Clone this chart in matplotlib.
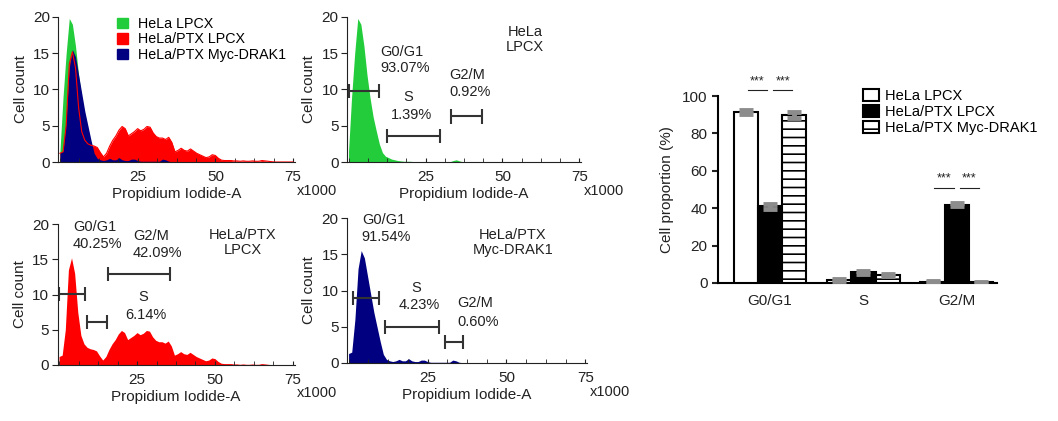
import numpy as np
import matplotlib
matplotlib.use('Agg')
import matplotlib.pyplot as plt
from matplotlib.patches import Patch
from matplotlib.ticker import MultipleLocator

plt.rcParams['font.family'] = ['Liberation Sans', 'DejaVu Sans']
plt.rcParams['font.size'] = 10.5
plt.rcParams['hatch.linewidth'] = 1.2

# PI channel (x1000), one bin per unit
pi_channel = np.arange(0, 76)

hela_lpcx_counts = [1.5, 9.0, 15.0, 19.8, 19.0, 16.0, 12.0, 8.8, 6.2, 4.3,
                    2.5, 1.3, 0.8, 0.6, 0.4, 0.3, 0.2, 0.15, 0.1, 0.1,
                    0.1, 0.05, 0.05, 0.05, 0.05, 0.05, 0.05, 0.05, 0.05, 0.05,
                    0.05, 0.05, 0.05, 0.05, 0.2, 0.3, 0.15, 0.05, 0.05, 0.05,
                    0.05, 0.05, 0.05, 0.05, 0.05, 0.05, 0.05, 0.05, 0.05, 0.05,
                    0.05, 0, 0, 0, 0, 0, 0, 0, 0, 0,
                    0, 0, 0, 0, 0, 0, 0, 0, 0, 0,
                    0, 0, 0, 0, 0, 0]

ptx_lpcx_counts = [1.2, 1.4, 5.0, 13.5, 15.2, 13.0, 7.5, 4.2, 3.0, 2.5,
                   2.3, 2.2, 2.0, 1.3, 0.7, 1.2, 2.2, 3.0, 3.6, 4.4,
                   4.9, 4.6, 3.6, 3.9, 4.2, 4.6, 4.3, 4.5, 4.9, 4.8,
                   4.0, 3.5, 3.3, 3.3, 3.1, 3.4, 2.7, 1.4, 1.6, 1.9,
                   1.6, 1.5, 1.8, 1.5, 1.2, 1.0, 0.8, 0.6, 0.7, 1.0,
                   0.9, 0.5, 0.25, 0.2, 0.2, 0.2, 0.15, 0.15, 0.1, 0.15,
                   0.1, 0.1, 0.15, 0.1, 0.1, 0.2, 0.15, 0.1, 0.05, 0,
                   0, 0, 0, 0, 0, 0]

ptx_drak1_counts = [1.3, 1.5, 6.0, 13.0, 15.5, 14.5, 12.0, 9.5, 7.0, 5.0,
                    3.0, 1.2, 0.5, 0.3, 0.2, 0.3, 0.5, 0.3, 0.3, 0.6,
                    0.3, 0.2, 0.2, 0.4, 0.4, 0.2, 0.1, 0.1, 0.1, 0.1,
                    0.1, 0.1, 0.1, 0.4, 0.3, 0.1, 0.05, 0.05, 0.05, 0.05,
                    0.05, 0, 0, 0, 0, 0, 0, 0, 0, 0,
                    0, 0, 0, 0, 0, 0, 0, 0, 0, 0,
                    0, 0, 0, 0, 0, 0, 0, 0, 0, 0,
                    0, 0, 0, 0, 0, 0]

group_names = ['HeLa LPCX', 'HeLa/PTX LPCX', 'HeLa/PTX Myc-DRAK1']
gate_names = ['G0/G1', 'S', 'G2/M']
gate_pct_hela = ['93.07%', '1.39%', '0.92%']
gate_pct_ptx = ['40.25%', '6.14%', '42.09%']
gate_pct_drak1 = ['91.54%', '4.23%', '0.60%']

phases = ['G0/G1', 'S', 'G2/M']
prop_hela = [91.5, 1.4, 0.6]
prop_ptx = [41.0, 5.8, 41.8]
prop_drak1 = [90.0, 4.3, 0.5]
sd_hela = [1.2, 0.5, 0.3]
sd_ptx = [1.3, 0.8, 0.8]
sd_drak1 = [1.5, 0.6, 0.3]

green = '#22CC3A'
red = '#FF0000'
navy = '#000080'
txt = '#222222'

W, H = 1058, 421
fig = plt.figure(figsize=(W / 100, H / 100), dpi=100)


def px_axes(left, right, y0, y20):
    return fig.add_axes([left / W, (H - y0) / H, (right - left) / W, (y0 - y20) / H])


def style_hist(ax):
    ax.set_xlim(-0.5, 75.5)
    ax.set_ylim(0, 20)
    for s in ['top', 'right']:
        ax.spines[s].set_visible(False)
    ax.spines['left'].set_color(txt)
    ax.spines['bottom'].set_color(txt)
    ax.set_yticks([0, 5, 10, 15, 20])
    ax.set_xticks([25, 50, 75])
    ax.xaxis.set_minor_locator(MultipleLocator(6.25))
    ax.tick_params(axis='y', direction='out', length=4, colors=txt, pad=2, labelsize=11)
    ax.tick_params(axis='x', which='both', direction='in', length=3, colors=txt, pad=6,
                   labelsize=11)
    ax.set_ylabel('Cell count', color=txt, labelpad=4, fontsize=11)
    ax.set_xlabel('Propidium Iodide-A', color=txt, labelpad=2, fontsize=11)
    ax.text(1.01, -0.2, 'x1000', transform=ax.transAxes, ha='left', va='center', color=txt)


def gate(ax, x0, x1, y):
    kw = dict(color='#333333', lw=1.5, solid_capstyle='butt')
    ax.plot([x0, x1], [y, y], **kw)
    ax.plot([x0, x0], [y - 1.0, y + 1.0], **kw)
    ax.plot([x1, x1], [y - 1.0, y + 1.0], **kw)


def label(ax, x, y1, y2, name, pct, ha='left', x2=None):
    ax.text(x, y1, name, ha=ha, va='center', color=txt)
    ax.text(x if x2 is None else x2, y2, pct, ha=ha, va='center', color=txt)


# overlay panel
ax1 = px_axes(58.4, 294.6, 162, 17)
ax1.fill_between(pi_channel, hela_lpcx_counts, color=green, lw=0)
ax1.fill_between(pi_channel, ptx_lpcx_counts, color=red, lw=0)
ax1.fill_between(pi_channel, ptx_drak1_counts, color=navy, lw=0)
ax1.plot(pi_channel, ptx_lpcx_counts, color=red, lw=0.8)
style_hist(ax1)
handles = [Patch(color=green), Patch(color=red), Patch(color=navy)]
ax1.legend(handles, group_names, loc='upper left', bbox_to_anchor=(0.25, 1.0),
           frameon=False, handlelength=0.75, handleheight=0.75, handletextpad=0.7,
           labelspacing=0.1, borderpad=0, borderaxespad=0, fontsize=10.3)

# HeLa LPCX
ax2 = px_axes(347, 581, 162, 17)
ax2.fill_between(pi_channel, hela_lpcx_counts, color=green, lw=0)
style_hist(ax2)
gate(ax2, 0.2, 9.9, 9.8)
gate(ax2, 12.5, 29.7, 3.6)
gate(ax2, 33.3, 43.3, 6.3)
label(ax2, 10.2, 15.2, 13.0, gate_names[0], gate_pct_hela[0])
label(ax2, 19.3, 9.0, 6.5, gate_names[1], gate_pct_hela[1], ha='center', x2=20.6)
label(ax2, 32.6, 12.0, 9.6, gate_names[2], gate_pct_hela[2])
ax2.text(57.3, 16.9, 'HeLa\nLPCX', ha='center', va='center', color=txt, linespacing=1.1)

# HeLa/PTX LPCX
ax3 = px_axes(57.5, 294.5, 365, 224)
ax3.fill_between(pi_channel, ptx_lpcx_counts, color=red, lw=0)
style_hist(ax3)
gate(ax3, 0.0, 8.3, 10.1)
gate(ax3, 8.9, 15.4, 6.1)
gate(ax3, 15.7, 35.6, 12.9)
label(ax3, 4.5, 19.6, 17.2, gate_names[0], gate_pct_ptx[0])
label(ax3, 26.9, 9.6, 7.1, gate_names[1], gate_pct_ptx[1], ha='center', x2=27.9)
label(ax3, 23.7, 18.3, 15.9, gate_names[2], gate_pct_ptx[2])
ax3.text(59, 17.35, 'HeLa/PTX\nLPCX', ha='center', va='center', color=txt, linespacing=1.1)

# HeLa/PTX Myc-DRAK1
ax4 = px_axes(347, 587, 363, 218)
ax4.fill_between(pi_channel, ptx_drak1_counts, color=navy, lw=0)
style_hist(ax4)
gate(ax4, 1.4, 9.6, 9.0)
gate(ax4, 11.5, 28.6, 5.0)
gate(ax4, 30.5, 36.2, 2.9)
label(ax4, 4.2, 19.7, 17.4, gate_names[0], gate_pct_drak1[0])
label(ax4, 21.3, 10.3, 8.0, gate_names[1], gate_pct_drak1[1], ha='center', x2=22.3)
label(ax4, 34.3, 8.3, 5.7, gate_names[2], gate_pct_drak1[2])
ax4.text(52, 16.6, 'HeLa/PTX\nMyc-DRAK1', ha='center', va='center', color=txt, linespacing=1.1)

# bar chart of cell proportions
ax5 = px_axes(718, 997, 283, 96)
ax5.set_ylim(0, 100)
ax5.set_xlim(-0.556, 2.43)
x = np.arange(len(phases))
w = 0.26
ekw = dict(fmt='none', ecolor='#8c8c8c', elinewidth=3.5, capsize=5, capthick=3.5, zorder=4)
ax5.bar(x - w, prop_hela, w, color='white', edgecolor='black', lw=1.5, label=group_names[0], zorder=3)
ax5.bar(x, prop_ptx, w, color='black', edgecolor='black', lw=1.5, label=group_names[1], zorder=3)
ax5.bar(x + w, prop_drak1, w, color='white', edgecolor='black', hatch='--', lw=1.5,
        label=group_names[2], zorder=3)
ax5.errorbar(x - w, prop_hela, yerr=sd_hela, **ekw)
ax5.errorbar(x, prop_ptx, yerr=sd_ptx, **ekw)
ax5.errorbar(x + w, prop_drak1, yerr=sd_drak1, **ekw)

for c, ly in [(0, 103), (2, 51)]:
    for a, b in [(c - w + 0.02, c - 0.03), (c + 0.03, c + w - 0.02)]:
        ax5.plot([a, b], [ly, ly], color=txt, lw=0.8, clip_on=False)
        ax5.text((a + b) / 2, ly + 1.5, '***', ha='center', va='bottom', fontsize=9,
                 color=txt, clip_on=False)

for s in ['top', 'right']:
    ax5.spines[s].set_visible(False)
ax5.spines['left'].set_linewidth(1.5)
ax5.spines['bottom'].set_linewidth(1.5)
ax5.set_xticks(x)
ax5.set_xticklabels(phases)
ax5.set_yticks([0, 20, 40, 60, 80, 100])
ax5.tick_params(axis='x', length=0, pad=8, colors=txt, labelsize=11)
ax5.tick_params(axis='y', length=4, width=1.5, colors=txt, labelsize=11)
ax5.set_ylabel('Cell proportion (%)', color=txt, labelpad=6, fontsize=11)
ax5.legend(loc='upper left', bbox_to_anchor=(0.52, 1.04), frameon=False,
           handlelength=1.1, handleheight=0.9, handletextpad=0.4, labelspacing=0.15,
           borderpad=0, borderaxespad=0, fontsize=10.5)

fig.savefig('out.png', dpi=100)
